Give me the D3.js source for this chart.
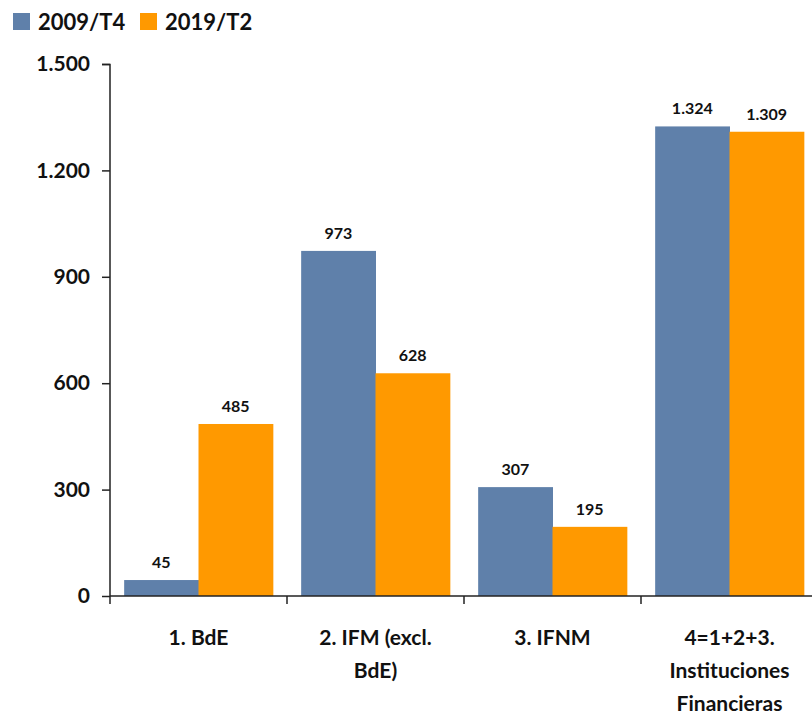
<!DOCTYPE html>
<html>
<head>
<meta charset="utf-8">
<script src="https://d3js.org/d3.v7.min.js"></script>
<style>
  body { margin: 0; background: #fff; }
  text { font-family: Lato, "Open Sans", sans-serif; font-weight: bold; fill: #111; }
</style>
</head>
<body>
<div id="chart"></div>
<script>
// Chart data
let categories = ["1. BdE", "2. IFM (excl. BdE)", "3. IFNM", "4=1+2+3. Instituciones Financieras"];
let categoryLines = [["1. BdE"], ["2. IFM (excl.", "BdE)"], ["3. IFNM"], ["4=1+2+3.", "Instituciones", "Financieras"]];
let seriesNames = ["2009/T4", "2019/T2"];
let values2009 = [45, 973, 307, 1324];
let values2019 = [485, 628, 195, 1309];
let yTicks = [0, 300, 600, 900, 1200, 1500];

let colors = ["#5f80aa", "#ff9900"];

let svgWidth = 812;
let svgHeight = 715;

let margin = { top: 64, right: -6, bottom: 119, left: 110 };
let width = svgWidth - margin.left - margin.right;
let height = svgHeight - margin.top - margin.bottom;

// Spanish number format, dot as thousands separator
let locale = d3.formatLocale({ decimal: ",", thousands: ".", grouping: [3], currency: ["", "€"] });
let fmt = v => v >= 1000 ? locale.format(",")(v) : String(v);

let svg = d3.select("#chart")
  .append("svg")
  .attr("width", svgWidth)
  .attr("height", svgHeight);

let chartGroup = svg.append("g")
  .attr("transform", `translate(${margin.left}, ${margin.top})`);

let x0 = d3.scaleBand()
  .domain(categories)
  .range([0, width])
  .paddingInner(0.16)
  .paddingOuter(0.08);

let x1 = d3.scaleBand()
  .domain(seriesNames)
  .range([0, x0.bandwidth()]);

let y = d3.scaleLinear()
  .domain([0, 1500])
  .range([height, 0]);

let rows = categories.map((c, i) => ({ cat: c, vals: [values2009[i], values2019[i]] }));

// bars
let groups = chartGroup.selectAll(".grp")
  .data(rows)
  .enter()
  .append("g")
  .attr("transform", d => `translate(${x0(d.cat)},0)`);

groups.selectAll("rect")
  .data(d => d.vals.map((v, j) => ({ key: seriesNames[j], v: v, j: j })))
  .enter()
  .append("rect")
  .attr("x", d => x1(d.key))
  .attr("y", d => y(d.v))
  .attr("width", x1.bandwidth() + 0.5)
  .attr("height", d => height - y(d.v))
  .attr("fill", d => colors[d.j]);

groups.selectAll(".val")
  .data(d => d.vals.map((v, j) => ({ key: seriesNames[j], v: v })))
  .enter()
  .append("text")
  .attr("x", d => x1(d.key) + x1.bandwidth() / 2)
  .attr("y", d => y(d.v) - 12)
  .attr("text-anchor", "middle")
  .style("font-size", "16px")
  .text(d => fmt(d.v));

// y axis
let leftAxis = d3.axisLeft(y)
  .tickValues(yTicks)
  .tickSize(8)
  .tickPadding(12)
  .tickFormat(fmt);

let yAxis = chartGroup.append("g").call(leftAxis);
yAxis.select(".domain").attr("stroke", "#222").attr("stroke-width", 1.5).attr("d", `M-8,0.5H0V${height}`);
yAxis.selectAll(".tick line").attr("stroke", "#222").attr("stroke-width", 1.5);
yAxis.selectAll(".tick text").style("font-size", "21px").style("font-family", "Lato, sans-serif").attr("fill", "#111");

// x axis with ticks at band boundaries
let boundaries = categories.map(c => x0(c) - x0.step() * x0.paddingInner() / 2);
boundaries.push(boundaries[3] + x0.step());

chartGroup.append("line")
  .attr("x1", 0).attr("x2", width)
  .attr("y1", height).attr("y2", height)
  .attr("stroke", "#222").attr("stroke-width", 1.5);

chartGroup.selectAll(".xtick")
  .data(boundaries)
  .enter()
  .append("line")
  .attr("x1", d => d).attr("x2", d => d)
  .attr("y1", height).attr("y2", height + 8)
  .attr("stroke", "#222").attr("stroke-width", 1.5);

let labels = chartGroup.selectAll(".xlab")
  .data(categories)
  .enter()
  .append("text")
  .attr("text-anchor", "middle")
  .attr("transform", d => `translate(${x0(d) + x0.bandwidth() / 2}, ${height + 49})`)
  .style("font-size", "21px");

labels.selectAll("tspan")
  .data((d, i) => categoryLines[i])
  .enter()
  .append("tspan")
  .attr("x", 0)
  .attr("dy", (d, i) => i === 0 ? 0 : 33)
  .text(d => d);

// legend
let legend = svg.append("g").attr("transform", "translate(13, 13)");
let legendX = [0, 127];
seriesNames.forEach((s, i) => {
  legend.append("rect")
    .attr("x", legendX[i]).attr("y", 0)
    .attr("width", 17).attr("height", 17)
    .attr("fill", colors[i]);
  legend.append("text")
    .attr("x", legendX[i] + 25).attr("y", 17)
    .style("font-size", "22px")
    .text(s);
});
</script>
</body>
</html>
